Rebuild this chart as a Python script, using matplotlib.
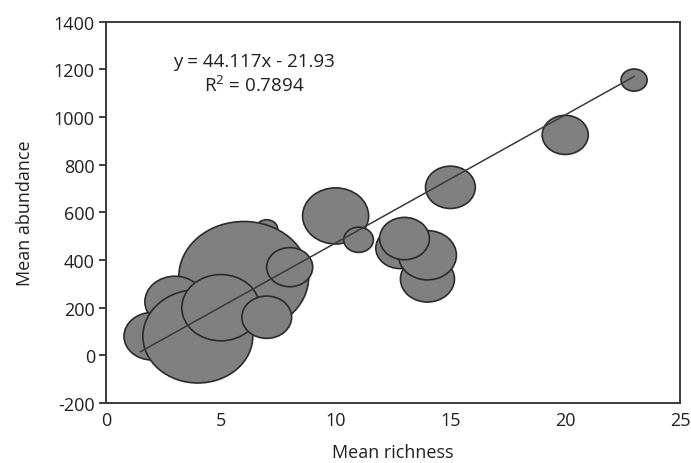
import numpy as np
import matplotlib.pyplot as plt
from matplotlib.path import Path
from matplotlib.transforms import Affine2D

# Bubble data (mean richness, mean abundance, bubble size), in drawing order
richness = [7, 6, 3, 2, 4, 5, 7, 8, 10, 11, 12.8, 14, 14, 13, 15, 20, 23]
abundance = [530, 330, 225, 80, 80, 200, 160, 370, 585, 485, 450, 320, 420, 490, 705, 925, 1155]
bubble_size = [12, 422, 90, 78, 302, 152, 62, 53, 109, 22, 58, 73, 84, 62, 62, 53, 17]

# Trend line as drawn in the figure
trend_x = [1.5, 23]
trend_y = [15, 1170]

equation = "y = 44.117x - 21.93"
r_squared = "R$^2$ = 0.7894"

plt.rcParams['font.family'] = ['Open Sans', 'DejaVu Sans']
plt.rcParams['axes.unicode_minus'] = False
plt.rcParams['mathtext.fontset'] = 'custom'
plt.rcParams['mathtext.rm'] = 'Open Sans'

fig = plt.figure(figsize=(6.91, 4.64), dpi=100)
ax = fig.add_axes([0.1534, 0.1293, 0.8307, 0.8218])

# slightly flattened circle, like the original bubbles
ellipse = Affine2D().scale(1, 0.85).transform_path(Path.unit_circle())
sizes = np.array(bubble_size) * 10 * 1.44 ** 2

ax.scatter(richness, abundance, s=sizes, marker=ellipse, c='#808080',
           edgecolors='#2b2b2b', linewidths=1.2, zorder=2)
ax.plot(trend_x, trend_y, color='#3a3a3a', lw=1.1, zorder=3)

ax.text(6.45, 1235, equation, ha='center', va='center', fontsize=13.5, color='#231f20')
ax.text(6.45, 1135, r_squared, ha='center', va='center', fontsize=13.5, color='#231f20')

ax.set_xlim(0, 25)
ax.set_ylim(-200, 1400)
ax.set_xticks(np.arange(0, 26, 5))
ax.set_yticks(np.arange(-200, 1401, 200))
ax.tick_params(axis='x', length=0, pad=6, labelsize=13, colors='#231f20')
ax.tick_params(axis='y', length=5, width=1.2, pad=3, labelsize=13, colors='#231f20')
for sp in ax.spines.values():
    sp.set_linewidth(1.4)
    sp.set_color('#3a3a3a')

ax.set_xlabel("Mean richness", fontsize=13, labelpad=10, color='#231f20')
ax.set_ylabel("Mean abundance", fontsize=13, labelpad=14, color='#231f20')

plt.savefig("out.png", dpi=100)
